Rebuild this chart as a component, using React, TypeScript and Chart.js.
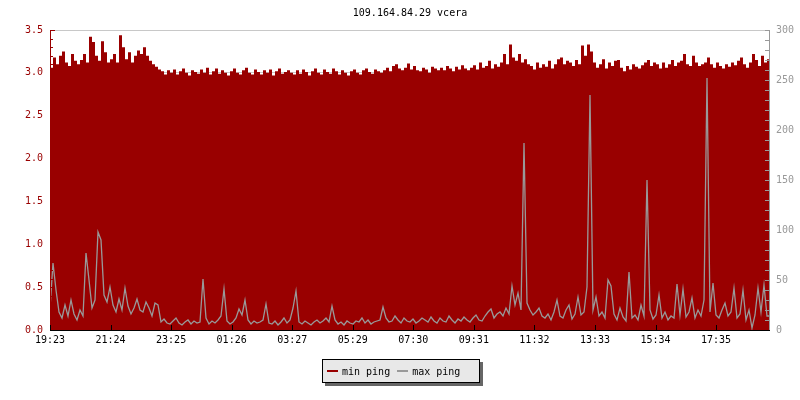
import React, { useEffect, useRef } from "react";
import { Chart, registerables } from "chart.js";

Chart.register(...registerables);

const TITLE = "109.164.84.29 vcera";
const TIME_LABELS = ["19:23", "21:24", "23:25", "01:26", "03:27", "05:29", "07:30", "09:31", "11:32", "13:33", "15:34", "17:35"];
const TICK_STEP_MIN = 121.1;
const POINT_STEP_MIN = 6;
const X_MAX_MIN = 1440;

const MIN_PING = [
  3.06, 3.18, 3.10, 3.20, 3.25, 3.12, 3.08, 3.22, 3.14, 3.10,
  3.15, 3.22, 3.12, 3.42, 3.36, 3.20, 3.14, 3.37, 3.24, 3.12,
  3.16, 3.22, 3.12, 3.44, 3.30, 3.16, 3.24, 3.12, 3.20, 3.26,
  3.22, 3.30, 3.20, 3.14, 3.10, 3.07, 3.04, 3.02, 2.98, 3.03,
  3.00, 3.04, 2.98, 3.02, 3.05, 3.00, 2.97, 3.03, 3.01, 2.99,
  3.04, 3.00, 3.06, 2.98, 3.02, 3.05, 2.99, 3.03, 3.00, 2.97,
  3.02, 3.05, 3.00, 2.98, 3.03, 3.06, 3.00, 2.98, 3.04, 3.01,
  2.98, 3.03, 3.00, 3.04, 2.97, 3.02, 3.05, 2.99, 3.01, 3.03,
  3.00, 2.98, 3.03, 2.99, 3.04, 3.01, 2.97, 3.02, 3.05, 3.00,
  2.98, 3.04, 3.01, 2.99, 3.05, 3.02, 2.98, 3.03, 3.00, 2.97,
  3.02, 3.04, 3.00, 2.98, 3.03, 3.05, 3.01, 2.99, 3.04, 3.02,
  3.00, 3.03, 3.06, 3.02, 3.08, 3.10, 3.05, 3.03, 3.06, 3.11,
  3.04, 3.08, 3.03, 3.02, 3.06, 3.04, 3.00, 3.07, 3.05, 3.03,
  3.06, 3.03, 3.08, 3.05, 3.02, 3.07, 3.04, 3.09, 3.05, 3.03,
  3.06, 3.09, 3.04, 3.12, 3.06, 3.08, 3.14, 3.05, 3.10, 3.07,
  3.12, 3.22, 3.10, 3.33, 3.18, 3.14, 3.22, 3.12, 3.16, 3.10,
  3.08, 3.04, 3.12, 3.06, 3.10, 3.07, 3.14, 3.05, 3.10, 3.16,
  3.18, 3.10, 3.14, 3.12, 3.08, 3.15, 3.10, 3.32, 3.20, 3.33,
  3.25, 3.12, 3.06, 3.10, 3.16, 3.05, 3.12, 3.08, 3.14, 3.15,
  3.06, 3.02, 3.08, 3.04, 3.10, 3.07, 3.05, 3.09, 3.12, 3.15,
  3.08, 3.12, 3.10, 3.05, 3.12, 3.06, 3.10, 3.15, 3.08, 3.12,
  3.14, 3.22, 3.10, 3.08, 3.20, 3.12, 3.08, 3.10, 3.12, 3.18,
  3.10, 3.06, 3.12, 3.08, 3.05, 3.10, 3.07, 3.12, 3.09, 3.14,
  3.18, 3.10, 3.06, 3.12, 3.22, 3.15, 3.08, 3.20, 3.12, 3.16,
  3.16,
];

const MAX_PING = [
  22, 67, 40, 18, 12, 25, 14, 30, 16, 10,
  20, 14, 77, 50, 22, 30, 98, 90, 35, 28,
  43, 25, 18, 31, 20, 42, 24, 16, 22, 31,
  20, 18, 28, 22, 14, 27, 25, 8, 11, 7,
  6, 9, 12, 7, 5, 8, 10, 6, 9, 7,
  8, 51, 12, 6, 9, 7, 10, 14, 41, 9,
  6, 8, 12, 21, 15, 30, 10, 6, 9, 7,
  8, 10, 26, 7, 6, 9, 5, 8, 12, 7,
  10, 22, 39, 8, 6, 9, 7, 5, 8, 10,
  7, 9, 12, 8, 24, 10, 6, 8, 5, 9,
  7, 6, 9, 8, 12, 7, 10, 6, 8, 9,
  10, 23, 12, 8, 9, 14, 10, 7, 12, 9,
  8, 11, 7, 9, 12, 10, 8, 13, 9, 7,
  12, 9, 8, 14, 10, 7, 11, 9, 13, 10,
  8, 12, 15, 10, 9, 14, 18, 21, 12, 16,
  18, 14, 22, 16, 44, 25, 37, 20, 187, 27,
  20, 15, 18, 22, 14, 12, 16, 10, 18, 30,
  14, 12, 20, 25, 11, 16, 33, 15, 18, 43,
  235, 20, 33, 14, 18, 12, 50, 44, 16, 10,
  22, 13, 9, 58, 12, 15, 10, 25, 14, 150,
  20, 11, 15, 35, 12, 18, 10, 14, 12, 46,
  15, 41, 13, 18, 32, 12, 20, 14, 30, 252,
  18, 47, 15, 12, 20, 27, 14, 18, 42, 12,
  16, 40, 10, 20, 2, 15, 42, 18, 45, 14,
  14,
];

const SERIES_NAMES = ["min ping", "max ping"];
const RED = "#990000";
const GRAY = "#999999";
const FONT = "'DejaVu Sans Mono', 'Liberation Mono', monospace";

const axesPlugin = {
  id: "customAxes",
  afterDatasetsDraw(chart: any) {
    const { ctx, chartArea } = chart;
    const { left, right, top, bottom } = chartArea;
    const yL = chart.scales.y;
    const yR = chart.scales.y1;
    const xS = chart.scales.x;
    ctx.save();
    ctx.lineWidth = 1;
    ctx.strokeStyle = RED;
    ctx.beginPath();
    ctx.moveTo(left + 0.5, top);
    ctx.lineTo(left + 0.5, bottom);
    for (let i = 0; i <= 35; i++) {
      const py = Math.round(yL.getPixelForValue(i / 10)) + 0.5;
      const len = i % 5 === 0 ? 5 : 3;
      ctx.moveTo(left, py);
      ctx.lineTo(left + len, py);
    }
    ctx.stroke();
    ctx.strokeStyle = GRAY;
    ctx.beginPath();
    ctx.moveTo(right - 0.5, top);
    ctx.lineTo(right - 0.5, bottom);
    for (let v = 0; v <= 300; v += 10) {
      const py = Math.round(yR.getPixelForValue(v)) + 0.5;
      ctx.moveTo(right, py);
      ctx.lineTo(right - 5, py);
    }
    ctx.stroke();
    ctx.strokeStyle = "#000000";
    ctx.beginPath();
    ctx.moveTo(left, bottom + 0.5);
    ctx.lineTo(right, bottom + 0.5);
    TIME_LABELS.forEach((_, i) => {
      const px = Math.round(xS.getPixelForValue(i * TICK_STEP_MIN)) + 0.5;
      ctx.moveTo(px, bottom);
      ctx.lineTo(px, bottom - 5);
    });
    ctx.stroke();
    ctx.restore();
  },
};

export default function App() {
  const canvasRef = useRef<HTMLCanvasElement | null>(null);

  useEffect(() => {
    if (!canvasRef.current) return;
    const minData = MIN_PING.map((v, i) => ({ x: i * POINT_STEP_MIN, y: v }));
    const maxData = MAX_PING.map((v, i) => ({ x: i * POINT_STEP_MIN, y: v }));
    const chart = new Chart(canvasRef.current, {
      type: "line",
      data: {
        datasets: [
          {
            label: SERIES_NAMES[0],
            data: minData,
            yAxisID: "y",
            stepped: true,
            fill: "origin",
            backgroundColor: RED,
            borderColor: RED,
            borderWidth: 0,
            pointRadius: 0,
            order: 1,
          },
          {
            label: SERIES_NAMES[1],
            data: maxData,
            yAxisID: "y1",
            stepped: false,
            tension: 0,
            fill: false,
            borderColor: GRAY,
            borderWidth: 1.3,
            pointRadius: 0,
            order: 0,
          },
        ],
      },
      options: {
        animation: false,
        responsive: false,
        maintainAspectRatio: false,
        layout: { padding: 0 },
        plugins: {
          legend: { display: false },
          tooltip: { enabled: false },
          title: {
            display: true,
            text: TITLE,
            fullSize: false,
            color: "#000000",
            font: { family: FONT, size: 10, weight: "normal" },
            padding: { top: 7, bottom: 11 },
          },
        },
        scales: {
          x: {
            type: "linear",
            min: 0,
            max: X_MAX_MIN,
            afterBuildTicks: (scale: any) => {
              scale.ticks = TIME_LABELS.map((_, i) => ({ value: i * TICK_STEP_MIN }));
            },
            afterFit: (scale: any) => {
              scale.height = 70;
            },
            grid: { display: false, drawTicks: false },
            border: { display: false },
            ticks: {
              autoSkip: false,
              maxRotation: 0,
              padding: 4,
              color: "#000000",
              font: { family: FONT, size: 10 },
              callback: (_v: any, i: number) => TIME_LABELS[i],
            },
          },
          y: {
            position: "left",
            min: 0,
            max: 3.5,
            afterFit: (scale: any) => {
              scale.width = 50;
            },
            grid: { color: "#c8c8c8", drawTicks: false },
            border: { display: false },
            ticks: {
              stepSize: 0.5,
              padding: 7,
              color: RED,
              font: { family: FONT, size: 10 },
              callback: (v: any) => Number(v).toFixed(1),
            },
          },
          y1: {
            position: "right",
            min: 0,
            max: 300,
            afterFit: (scale: any) => {
              scale.width = 30;
            },
            grid: { display: false, drawTicks: false },
            border: { display: false },
            ticks: {
              stepSize: 50,
              padding: 6,
              color: GRAY,
              font: { family: FONT, size: 10 },
            },
          },
        },
      },
      plugins: [axesPlugin],
    });
    return () => chart.destroy();
  }, []);

  const swatch = (color: string) => (
    <span style={{ display: "inline-block", width: 11, height: 2, background: color, marginRight: 4, verticalAlign: "middle" }} />
  );

  return (
    <div style={{ position: "fixed", left: 0, top: 0, width: 800, height: 400, background: "#ffffff" }}>
      <canvas ref={canvasRef} width={800} height={400} style={{ display: "block", width: 800, height: 400 }} />
      <div
        style={{
          position: "absolute",
          left: 322,
          top: 359,
          width: 152,
          height: 22,
          background: "#e8e8e8",
          border: "1px solid #000000",
          boxShadow: "3px 3px 0 #666666",
          fontFamily: FONT,
          fontSize: 10,
          color: "#000000",
          display: "flex",
          alignItems: "center",
          paddingLeft: 4,
          boxSizing: "content-box",
          whiteSpace: "nowrap",
        }}
      >
        {swatch(RED)}
        <span style={{ marginRight: 7 }}>{SERIES_NAMES[0]}</span>
        {swatch(GRAY)}
        <span>{SERIES_NAMES[1]}</span>
      </div>
    </div>
  );
}
